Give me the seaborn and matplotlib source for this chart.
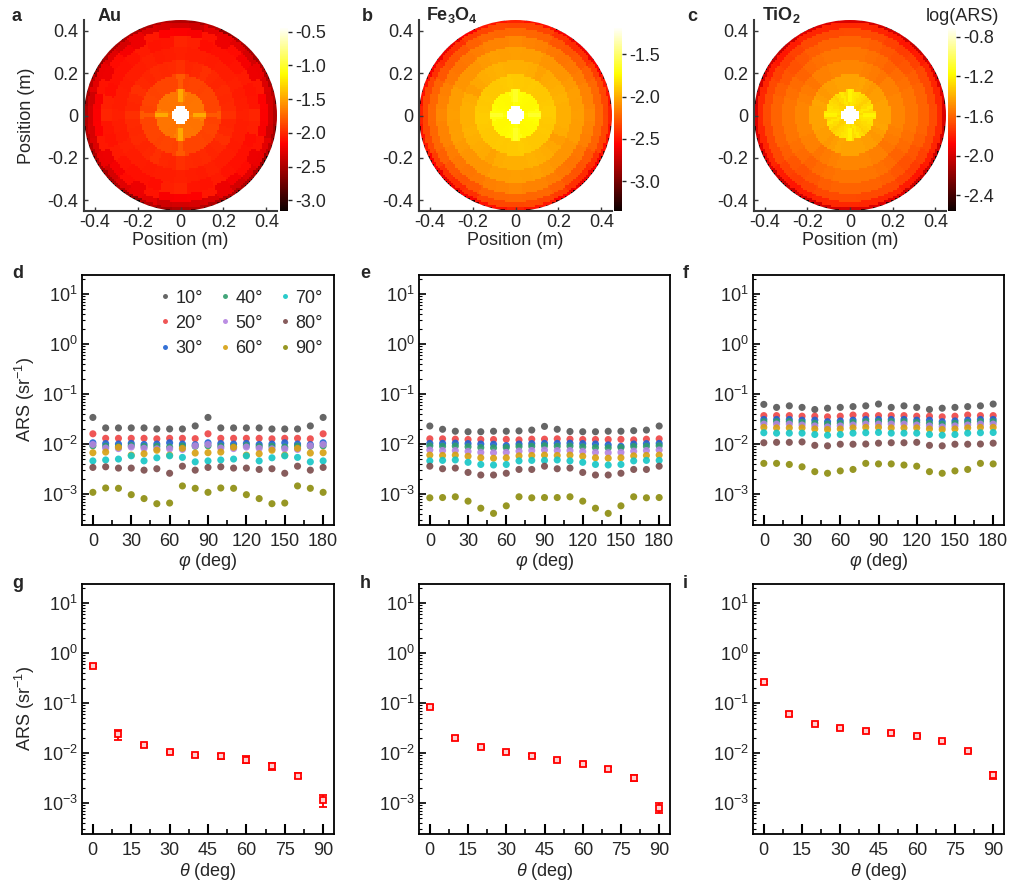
import numpy as np
import pandas as pd
import matplotlib
matplotlib.use("Agg")
import matplotlib.pyplot as plt
import seaborn as sns
from matplotlib.patches import Circle
from matplotlib.ticker import MultipleLocator, FormatStrFormatter, LogLocator, NullFormatter

# -----------------------------
# data
# -----------------------------
phi = list(range(0, 181, 10))
theta = list(range(0, 91, 10))
theta_labels = ["10°", "20°", "30°", "40°", "50°", "60°", "70°", "80°", "90°"]
palette = ["#555555", "#ee4444", "#1f62d2", "#2f9d6c", "#b482e0",
           "#d6a010", "#14c6c6", "#7a4a4a", "#8c8c0c"]

# ARS vs phi, one row per theta (10..90 deg)
au_ars = [
    [0.034, 0.021, 0.021, 0.021, 0.021, 0.020, 0.020, 0.020, 0.023, 0.034, 0.021, 0.021, 0.021, 0.021, 0.020, 0.020, 0.020, 0.023, 0.034],
    [0.016, 0.013, 0.013, 0.013, 0.013, 0.0127, 0.013, 0.013, 0.0128, 0.016, 0.013, 0.013, 0.013, 0.013, 0.0127, 0.013, 0.013, 0.0127, 0.016],
    [0.0106, 0.0102, 0.0100, 0.0103, 0.0098, 0.0100, 0.0106, 0.0100, 0.0097, 0.0106, 0.0102, 0.0100, 0.0103, 0.0098, 0.0100, 0.0106, 0.0100, 0.0097, 0.0106],
    [0.0092, 0.0090, 0.0088, 0.0093, 0.0089, 0.0090, 0.0087, 0.0091, 0.0090, 0.0092, 0.0090, 0.0088, 0.0093, 0.0089, 0.0090, 0.0087, 0.0091, 0.0090, 0.0092],
    [0.0098, 0.0083, 0.0081, 0.0087, 0.0082, 0.0080, 0.0080, 0.0078, 0.0092, 0.0098, 0.0083, 0.0081, 0.0087, 0.0082, 0.0080, 0.0080, 0.0078, 0.0092, 0.0098],
    [0.0067, 0.0069, 0.0086, 0.0060, 0.0064, 0.0075, 0.0060, 0.0082, 0.0066, 0.0067, 0.0069, 0.0086, 0.0060, 0.0064, 0.0075, 0.0060, 0.0082, 0.0066, 0.0067],
    [0.0046, 0.0048, 0.0050, 0.0058, 0.0046, 0.0053, 0.0058, 0.0054, 0.0044, 0.0046, 0.0048, 0.0050, 0.0058, 0.0046, 0.0053, 0.0058, 0.0054, 0.0044, 0.0046],
    [0.0034, 0.0035, 0.0033, 0.0033, 0.0030, 0.0032, 0.0026, 0.0036, 0.0030, 0.0034, 0.0035, 0.0033, 0.0033, 0.0031, 0.0032, 0.0026, 0.0036, 0.0030, 0.0034],
    [0.00108, 0.00132, 0.0013, 0.00097, 0.00081, 0.00064, 0.00066, 0.00145, 0.0013, 0.00108, 0.00132, 0.0013, 0.00097, 0.00081, 0.00064, 0.00066, 0.00145, 0.0013, 0.00108],
]
fe_ars = [
    [0.0229, 0.0197, 0.0180, 0.0176, 0.0176, 0.0180, 0.0180, 0.0183, 0.0190, 0.0225, 0.0197, 0.0178, 0.0176, 0.0176, 0.0180, 0.0180, 0.0185, 0.0190, 0.0229],
    [0.0127, 0.0127, 0.0125, 0.0123, 0.0123, 0.0123, 0.0124, 0.0121, 0.0125, 0.0125, 0.0127, 0.0125, 0.0123, 0.0123, 0.0123, 0.0124, 0.0121, 0.0125, 0.0127],
    [0.0103, 0.0103, 0.0104, 0.0102, 0.0100, 0.0099, 0.0093, 0.0100, 0.0102, 0.0103, 0.0103, 0.0104, 0.0102, 0.0100, 0.0096, 0.0090, 0.0100, 0.0102, 0.0103],
    [0.0092, 0.0090, 0.0091, 0.0088, 0.0085, 0.0084, 0.0085, 0.0089, 0.0090, 0.0092, 0.0090, 0.0091, 0.0088, 0.0085, 0.0084, 0.0085, 0.0089, 0.0090, 0.0092],
    [0.0076, 0.0074, 0.0074, 0.0071, 0.0068, 0.0067, 0.0068, 0.0072, 0.0074, 0.0076, 0.0074, 0.0074, 0.0071, 0.0068, 0.0067, 0.0068, 0.0072, 0.0074, 0.0076],
    [0.0060, 0.0059, 0.0060, 0.0057, 0.0053, 0.0052, 0.0053, 0.0058, 0.0059, 0.0060, 0.0059, 0.0060, 0.0057, 0.0053, 0.0052, 0.0053, 0.0058, 0.0059, 0.0060],
    [0.0046, 0.0047, 0.0048, 0.0043, 0.0039, 0.0038, 0.0039, 0.0046, 0.0047, 0.0047, 0.0048, 0.0046, 0.0043, 0.0039, 0.0038, 0.0039, 0.0046, 0.0047, 0.0047],
    [0.0036, 0.0032, 0.0033, 0.0027, 0.0024, 0.0024, 0.0026, 0.0031, 0.0031, 0.0036, 0.0032, 0.0033, 0.0027, 0.0024, 0.0024, 0.0026, 0.0031, 0.0031, 0.0036],
    [0.00084, 0.00085, 0.00088, 0.00072, 0.00052, 0.00041, 0.00058, 0.00088, 0.00084, 0.00085, 0.00085, 0.00088, 0.00072, 0.00052, 0.00041, 0.00058, 0.00088, 0.00084, 0.00085],
]
ti_ars = [
    [0.062, 0.054, 0.058, 0.054, 0.049, 0.052, 0.054, 0.056, 0.058, 0.063, 0.054, 0.058, 0.054, 0.049, 0.052, 0.054, 0.056, 0.058, 0.063],
    [0.037, 0.037, 0.037, 0.036, 0.036, 0.035, 0.036, 0.038, 0.037, 0.037, 0.037, 0.037, 0.036, 0.036, 0.035, 0.036, 0.038, 0.037, 0.037],
    [0.031, 0.031, 0.031, 0.030, 0.030, 0.028, 0.029, 0.030, 0.031, 0.031, 0.031, 0.031, 0.030, 0.030, 0.028, 0.029, 0.030, 0.031, 0.031],
    [0.028, 0.028, 0.028, 0.027, 0.026, 0.025, 0.026, 0.027, 0.028, 0.028, 0.028, 0.028, 0.027, 0.026, 0.025, 0.026, 0.027, 0.028, 0.028],
    [0.025, 0.025, 0.025, 0.024, 0.023, 0.022, 0.023, 0.024, 0.025, 0.025, 0.025, 0.025, 0.024, 0.023, 0.022, 0.023, 0.024, 0.025, 0.025],
    [0.0215, 0.021, 0.021, 0.021, 0.020, 0.0195, 0.020, 0.021, 0.0215, 0.0215, 0.021, 0.021, 0.021, 0.020, 0.0195, 0.020, 0.021, 0.0215, 0.0215],
    [0.0168, 0.0165, 0.0165, 0.0165, 0.0155, 0.015, 0.0155, 0.0165, 0.0168, 0.017, 0.0165, 0.0165, 0.0165, 0.0155, 0.015, 0.0155, 0.0165, 0.0168, 0.017],
    [0.0106, 0.0108, 0.0108, 0.0110, 0.0094, 0.0092, 0.0099, 0.0099, 0.0100, 0.0104, 0.0106, 0.0106, 0.0108, 0.0094, 0.0092, 0.0099, 0.0099, 0.0100, 0.0104],
    [0.0041, 0.0041, 0.0039, 0.0035, 0.0028, 0.0026, 0.0029, 0.0031, 0.0041, 0.0040, 0.0040, 0.0038, 0.0036, 0.0028, 0.0026, 0.0029, 0.0031, 0.0041, 0.0040],
]

# ARS vs theta (phi-averaged) with error bars
au_theta = [0.56, 0.024, 0.0142, 0.0106, 0.0091, 0.0086, 0.0074, 0.0055, 0.0035, 0.00113]
au_err = [0.03, 0.0055, 0.0012, 0.0006, 0.0006, 0.0009, 0.0012, 0.0009, 0.0004, 0.0003]
fe_theta = [0.085, 0.0204, 0.0131, 0.0104, 0.0088, 0.0073, 0.0059, 0.0048, 0.0032, 0.00081]
fe_err = [0.005, 0.0018, 0.0006, 0.0006, 0.0006, 0.0004, 0.0004, 0.0004, 0.0005, 0.00019]
ti_theta = [0.26, 0.060, 0.038, 0.0316, 0.028, 0.0257, 0.022, 0.017, 0.011, 0.0036]
ti_err = [0.015, 0.005, 0.002, 0.0015, 0.0013, 0.001, 0.0009, 0.0007, 0.0005, 0.0006]

materials = [r"$\mathbf{Au}$", r"$\mathbf{Fe_3O_4}$", r"$\mathbf{TiO_2}$"]
cbar_lims = [(-3.16, -0.43), (-3.35, -1.18), (-2.56, -0.70)]
cbar_ticks = [[-3.0, -2.5, -2.0, -1.5, -1.0, -0.5],
              [-3.0, -2.5, -2.0, -1.5],
              [-2.4, -2.0, -1.6, -1.2, -0.8]]
pos_ticks = [-0.4, -0.2, 0, 0.2, 0.4]
pos_labels = ["-0.4", "-0.2", "0", "0.2", "0.4"]

# -----------------------------
# style
# -----------------------------
sns.set_theme(style="ticks")
plt.rcParams["font.family"] = ["Liberation Sans", "DejaVu Sans"]
plt.rcParams.update({
    "mathtext.fontset": "custom",
    "mathtext.rm": "Liberation Sans",
    "mathtext.it": "Liberation Sans:italic",
    "mathtext.bf": "Liberation Sans:bold",
    "axes.unicode_minus": False,
    "font.size": 13,
    "axes.labelsize": 13,
    "xtick.labelsize": 13,
    "ytick.labelsize": 13,
    "legend.fontsize": 13,
})

W, H = 1015, 890
fig = plt.figure(figsize=(W / 100, H / 100), dpi=100)


def rect(l, t, r, b):
    return [l / W, 1 - b / H, (r - l) / W, (b - t) / H]


def letter(x, y, s):
    fig.text(x / W, 1 - y / H, s, fontsize=13, fontweight="bold", va="baseline")


# -----------------------------
# top row: angular maps (hemisphere projected onto the plane)
# -----------------------------
R = 0.45
top_boxes = [(84, 277, 280), (419, 612, 614), (754, 946, 948)]
n = 90
c = (np.arange(n) + 0.5) / n * 2 * R - R
X, Y = np.meshgrid(c, c)
rr = np.hypot(X, Y)
th_idx = np.rint(np.degrees(np.arcsin(np.clip(rr / R, 0, 1))) / 10).astype(int)
ph_idx = np.rint((np.degrees(np.arctan2(Y, X)) % 180) / 10).astype(int)

for k, (ars, prof) in enumerate([(au_ars, au_theta), (fe_ars, fe_theta), (ti_ars, ti_theta)]):
    L, Rr, cl = top_boxes[k]
    ax = fig.add_axes(rect(L, 20, Rr, 211))
    cax = fig.add_axes(rect(cl, 27, cl + 8, 211))
    table = np.vstack([np.full(len(phi), prof[0]), np.array(ars)])
    img = np.log10(table[th_idx, ph_idx])
    vmin, vmax = cbar_lims[k]
    im = ax.imshow(img, origin="lower", extent=(-R, R, -R, R), cmap="hot",
                   vmin=vmin, vmax=vmax, interpolation="nearest", aspect="auto")
    im.set_clip_path(Circle((0, 0), R, transform=ax.transData))
    ax.set_xlim(-R, R)
    ax.set_ylim(-R, R)
    ax.set_xticks(pos_ticks, labels=pos_labels)
    ax.set_yticks(pos_ticks, labels=pos_labels)
    for s in ["top", "right"]:
        ax.spines[s].set_visible(False)
    for s in ["left", "bottom"]:
        ax.spines[s].set_color("#3a3a3a")
        ax.spines[s].set_linewidth(1.5)
    ax.tick_params(direction="in", length=3, width=1, color="#3a3a3a")
    ax.tick_params(axis="x", pad=2)
    ax.tick_params(axis="y", pad=4)
    ax.set_xlabel("Position (m)")
    ax.xaxis.set_label_coords(0.5, -0.11)
    ax.xaxis.label.set_va("top")
    if k == 0:
        ax.set_ylabel("Position (m)")
        ax.yaxis.set_label_coords(-0.255, 0.5)

    cb = fig.colorbar(im, cax=cax)
    cb.outline.set_visible(False)
    cb.set_ticks(cbar_ticks[k])
    cax.yaxis.set_major_formatter(FormatStrFormatter("%.1f"))
    cax.tick_params(length=3, width=1, pad=2, direction="out")
    cax.minorticks_off()

letter(12, 21, "a")
letter(362, 21, "b")
letter(687, 21, "c")
fig.text(97 / W, 1 - 21 / H, materials[0], fontsize=13, va="baseline")
fig.text(426 / W, 1 - 20 / H, materials[1], fontsize=13, va="baseline")
fig.text(762 / W, 1 - 20 / H, materials[2], fontsize=13, va="baseline")
fig.text(999 / W, 1 - 21 / H, "log(ARS)", fontsize=13, ha="right", va="baseline")


def style_log_axes(ax, major, minor):
    ax.set_yscale("log")
    ax.set_ylim(2.4e-4, 24)
    ax.set_yticks([1e-3, 1e-2, 1e-1, 1, 10])
    ax.yaxis.set_minor_locator(LogLocator(base=10, subs=np.arange(2, 10), numticks=20))
    ax.yaxis.set_minor_formatter(NullFormatter())
    ax.xaxis.set_major_locator(MultipleLocator(major))
    ax.xaxis.set_minor_locator(MultipleLocator(minor))
    for s in ax.spines.values():
        s.set_color("black")
        s.set_linewidth(1.3)
    ax.tick_params(which="both", direction="in", top=False, right=False, color="black")
    ax.tick_params(axis="x", which="major", length=7, width=1.5, pad=6)
    ax.tick_params(axis="x", which="minor", length=3.5, width=1.2)
    ax.tick_params(axis="y", which="major", length=5, width=1.2, pad=3)
    ax.tick_params(axis="y", which="minor", length=2.5, width=0.8)


# -----------------------------
# middle row: ARS vs phi
# -----------------------------
mid_boxes = [(82, 334), (419, 670), (753, 1004)]
for k, ars in enumerate([au_ars, fe_ars, ti_ars]):
    L, Rr = mid_boxes[k]
    ax = fig.add_axes(rect(L, 275, Rr, 525))
    rows = []
    for lab, vals in zip(theta_labels, ars):
        for p, v in zip(phi, vals):
            rows.append({"phi": p, "ars": v, "theta": lab})
    df = pd.DataFrame(rows)
    sns.scatterplot(data=df, x="phi", y="ars", hue="theta", hue_order=theta_labels,
                    palette=palette, s=26, linewidth=0, alpha=0.9, ax=ax,
                    legend=(k == 0))
    style_log_axes(ax, 30, 15)
    ax.set_xlim(-8.5, 188.5)
    ax.set_xlabel(r"$\varphi$ (deg)")
    ax.xaxis.set_label_coords(0.5, -0.104)
    ax.xaxis.label.set_va("top")
    if k == 0:
        ax.set_ylabel(r"ARS (sr$^{-1}$)")
        ax.yaxis.set_label_coords(-0.18, 0.5)
        sns.move_legend(ax, "upper right", bbox_to_anchor=(1.0, 0.985), ncol=3,
                        frameon=False, title=None, handlelength=0.6,
                        handletextpad=0.3, columnspacing=0.9, labelspacing=0.45,
                        markerscale=0.7, borderaxespad=0.2)
    else:
        ax.set_ylabel("")

letter(12, 278, "d")
letter(360, 278, "e")
letter(683, 278, "f")

# -----------------------------
# bottom row: ARS vs theta
# -----------------------------
for k, (prof, err) in enumerate([(au_theta, au_err), (fe_theta, fe_err), (ti_theta, ti_err)]):
    L, Rr = mid_boxes[k]
    ax = fig.add_axes(rect(L, 584, Rr, 834))
    ax.errorbar(theta, prof, yerr=err, fmt="s", color="red", ms=4.5,
                mfc="#ffd0d0", mec="red", mew=1.3, capsize=3,
                elinewidth=1.3, capthick=1.3)
    style_log_axes(ax, 15, 7.5)
    ax.set_xlim(-4.2, 94.2)
    ax.set_xlabel(r"$\theta$ (deg)")
    ax.xaxis.set_label_coords(0.5, -0.108)
    ax.xaxis.label.set_va("top")
    if k == 0:
        ax.set_ylabel(r"ARS (sr$^{-1}$)")
        ax.yaxis.set_label_coords(-0.18, 0.5)

letter(12, 588, "g")
letter(360, 588, "h")
letter(683, 588, "i")

fig.savefig("out.png", dpi=100)
